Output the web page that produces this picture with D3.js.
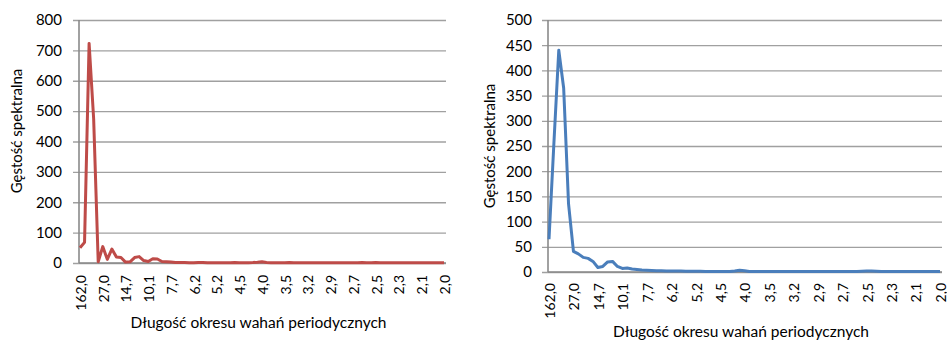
<!DOCTYPE html>
<html>
<head>
<meta charset="utf-8">
<script src="https://cdn.jsdelivr.net/npm/d3@7"></script>
<style>
  body { margin: 0; background: #fff; }
  text { font-family: Lato, "Open Sans", sans-serif; fill: #000; }
</style>
</head>
<body>
<div id="chart"></div>
<script>
// periods (x categories), every 5th one is labelled
var periods = ["162,0","81,0","54,0","40,5","32,4","27,0","23,1","20,3","18,0","16,2",
  "14,7","13,5","12,5","11,6","10,8","10,1","9,5","9,0","8,5","8,1",
  "7,7","7,4","7,0","6,8","6,5","6,2","6,0","5,8","5,6","5,4",
  "5,2","5,1","4,9","4,8","4,6","4,5","4,4","4,3","4,2","4,1",
  "4,0","3,9","3,8","3,7","3,6","3,5","3,4","3,4","3,3","3,2",
  "3,2","3,1","3,1","3,0","2,9","2,9","2,8","2,8","2,7","2,7",
  "2,7","2,6","2,6","2,5","2,5","2,5","2,4","2,4","2,3","2,3",
  "2,3","2,3","2,2","2,2","2,2","2,1","2,1","2,1","2,1","2,0","2,0"];

var redSeries = [50,68,723,475,4,54,12,46,20,18,
  3,4,18,21,8,5,14,13,5,4,
  3,2,2,1.5,1,1,2,1.5,1,1,
  1,0.8,1,1.2,1.5,1.2,1,1,1.5,2.5,
  4,2,1,1,1.2,1,1.5,1,1,1,
  1.2,1,0.8,1,1,1.2,1,1,0.8,1,
  1,1.2,1.5,1.2,1,1.5,1.2,1,1,0.8,
  1,1.2,1,1,0.8,1,1,1,0.8,0.8,0.8];

var blueSeries = [65,255,440,365,135,41,36,29,27,21,
  9,11,20,21,11,7,8,6,5,4,
  3.5,3,2.5,2.5,2,2,2.2,2,1.5,1.5,
  1.5,1.3,1.2,1.2,1.2,1.2,1,1.2,2,3.5,
  2.5,1.2,1,1,1,1,1,1,1,1,
  1,1,1,1,1,1,0.8,0.8,1,1,
  1,1,1,1.2,1.5,2,2,1.5,1.2,1,
  1,1,1,1,1,0.8,0.8,0.8,0.8,0.8,0.8];

var yTicksRed = [0,100,200,300,400,500,600,700,800];
var yTicksBlue = [0,50,100,150,200,250,300,350,400,450,500];

var xTitle = "Długość okresu wahań periodycznych";
var yTitle = "Gęstość spektralna";

var svg = d3.select("#chart")
  .append("svg")
  .attr("width", 947)
  .attr("height", 340);

function drawPanel(opt) {
  var w = opt.right - opt.left;
  var h = opt.bottom - opt.top;

  var g = svg.append("g")
    .attr("transform", "translate(" + opt.left + "," + opt.top + ")");

  var x = d3.scaleLinear()
    .domain([0, periods.length - 1])
    .range([1, w - 2]);

  var y = d3.scaleLinear()
    .domain([0, d3.max(opt.ticks)])
    .range([h, 0]);

  // gridlines + y labels
  var yAxis = g.append("g")
    .call(d3.axisLeft(y)
      .tickValues(opt.ticks)
      .tickSizeInner(-w)
      .tickSizeOuter(0)
      .tickPadding(opt.pad)
      .tickFormat(d3.format("d")));
  yAxis.select(".domain").remove();
  yAxis.selectAll(".tick line")
    .attr("x1", -6)
    .attr("stroke", "#a0a0a0")
    .attr("stroke-width", 1.3);
  yAxis.selectAll(".tick text")
    .style("font-size", "15px")
    .style("font-family", "Lato, 'Open Sans', sans-serif");

  // axis lines
  g.append("line")
    .attr("x1", 0).attr("x2", 0)
    .attr("y1", 0).attr("y2", h)
    .attr("stroke", "#8a8a8a")
    .attr("stroke-width", 1.6);
  g.append("line")
    .attr("x1", 0).attr("x2", w)
    .attr("y1", h).attr("y2", h)
    .attr("stroke", "#8a8a8a")
    .attr("stroke-width", 1.6);

  // x labels, every 5th period
  g.selectAll(".xlab")
    .data(periods.map(function(p, i) { return {p: p, i: i}; })
      .filter(function(d) { return d.i % 5 === 0; }))
    .enter()
    .append("text")
    .attr("class", "xlab")
    .attr("transform", function(d) {
      return "translate(" + (x(d.i) + 1) + "," + (h + opt.xlabGap) + ") rotate(-90)";
    })
    .attr("dy", "0.35em")
    .attr("text-anchor", "end")
    .style("font-size", "14px")
    .text(function(d) { return d.p; });

  // the series line
  var line = d3.line()
    .x(function(d, i) { return x(i); })
    .y(function(d) { return y(d); });

  g.append("path")
    .datum(opt.values)
    .attr("d", line)
    .attr("fill", "none")
    .attr("stroke", opt.colour)
    .attr("stroke-width", 3)
    .attr("stroke-linejoin", "round");

  // titles
  svg.append("text")
    .attr("transform", "translate(" + opt.yTitleX + "," + opt.yTitleY + ") rotate(-90)")
    .attr("text-anchor", "middle")
    .attr("dy", "0.35em")
    .style("font-size", "15px")
    .text(yTitle);

  svg.append("text")
    .attr("x", opt.left + w / 2 - 4)
    .attr("y", opt.xTitleY)
    .attr("text-anchor", "middle")
    .style("font-size", "15.5px")
    .text(xTitle);
}

drawPanel({
  left: 79, right: 446, top: 20, bottom: 263,
  ticks: yTicksRed, values: redSeries, colour: "#BE4B48",
  pad: 17, xlabGap: 12,
  yTitleX: 17, yTitleY: 131, xTitleY: 328
});

drawPanel({
  left: 548, right: 942, top: 20, bottom: 272,
  ticks: yTicksBlue, values: blueSeries, colour: "#4A7EBB",
  pad: 16, xlabGap: 11,
  yTitleX: 490, yTitleY: 146, xTitleY: 337
});
</script>
</body>
</html>
